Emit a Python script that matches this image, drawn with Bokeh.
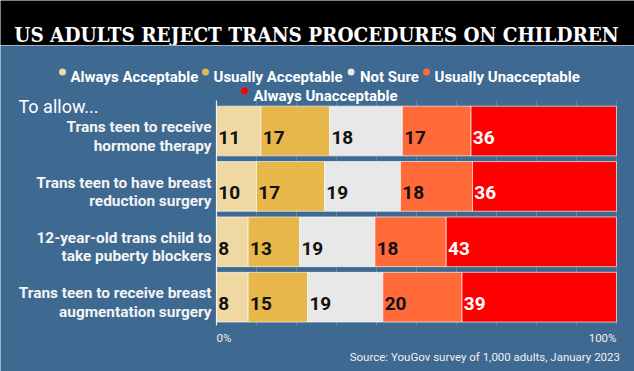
from bokeh.plotting import figure
from bokeh.layouts import column
from bokeh.models import Range1d, ColumnDataSource
from bokeh.core.properties import value
from bokeh.embed import file_html
from bokeh.resources import INLINE

# ---------------- data ----------------
title_text = "US ADULTS REJECT TRANS PROCEDURES ON CHILDREN"
prefix_text = "To allow..."
source_text = "Source: YouGov survey of 1,000 adults, January 2023"
categories = [
    "Trans teen to receive\nhormone therapy",
    "Trans teen to have breast\nreduction surgery",
    "12-year-old trans child to\ntake puberty blockers",
    "Trans teen to receive breast\naugmentation surgery",
]
series_names = ["Always Acceptable", "Usually Acceptable", "Not Sure",
                "Usually Unacceptable", "Always Unacceptable"]
always_acceptable = [11, 10, 8, 8]
usually_acceptable = [17, 17, 13, 15]
not_sure = [18, 19, 19, 19]
usually_unacceptable = [17, 18, 18, 20]
always_unacceptable = [36, 36, 43, 39]
tick_values = [0, 100]
tick_labels = ["0%", "100%"]
grid_values = [10, 20, 30, 40, 50, 60, 70, 80, 90, 100]

series_values = [always_acceptable, usually_acceptable, not_sure,
                 usually_unacceptable, always_unacceptable]
series_colors = ["#f0d8a2", "#e8b749", "#e8e8e8", "#ff6a38", "#fe0000"]
label_colors = ["#111111", "#111111", "#111111", "#111111", "#ffffff"]

BG = "#3e6991"
FONT = value("Roboto")
W = 634

# ---------------- title band ----------------
pt = figure(width=W, height=45, x_range=Range1d(0, W), y_range=Range1d(45, 0),
            x_axis_type=None, y_axis_type=None, toolbar_location=None,
            output_backend="svg", min_border=0, outline_line_color=None,
            background_fill_color="black", border_fill_color="black")
pt.xgrid.visible = False
pt.ygrid.visible = False
pt.text(x=[316], y=[34], text=[title_text], text_align="center",
        text_baseline="alphabetic", text_color="white",
        text_font=value("DejaVu Serif Condensed"), text_font_style="bold",
        text_font_size="20.5px")

# ---------------- chart ----------------
X0, PXU = 216, 4.0          # pixel of 0 %, pixels per percent
p = figure(width=W, height=326, x_range=Range1d(-X0 / PXU, (W - X0) / PXU),
           y_range=Range1d(371, 45),
           x_axis_type=None, y_axis_type=None, toolbar_location=None,
           output_backend="svg", min_border=0, outline_line_color=None,
           background_fill_color=BG, border_fill_color=BG)
p.xgrid.visible = False
p.ygrid.visible = False
px2x = lambda px: (px - X0) / PXU

ROW0, PITCH, BAR_H = 130.5, 55.4, 49.7
ys = [ROW0 + PITCH * i for i in range(len(categories))]

# grid lines and zero axis line
p.segment(x0=grid_values, x1=grid_values, y0=[100] * len(grid_values),
          y1=[325] * len(grid_values), line_color="#5a83a9", line_width=1)
p.segment(x0=[0], x1=[0], y0=[100], y1=[325], line_color="#e6eef5", line_width=1.2)

# stacked (percent) bars
totals = [sum(s[i] for s in series_values) for i in range(len(categories))]
cum = [0.0] * len(categories)
for name, vals, col, lcol in zip(series_names, series_values, series_colors, label_colors):
    left = [cum[i] for i in range(len(vals))]
    right = [cum[i] + vals[i] / totals[i] * 100 for i in range(len(vals))]
    cum = right
    src = ColumnDataSource(dict(y=ys, left=left, right=right, v=[str(v) for v in vals],
                                lx=[l + 0.45 for l in left],
                                ly=[y + 6.2 for y in ys]))
    p.hbar(y="y", left="left", right="right", height=BAR_H, source=src,
           fill_color=col, line_color="white", line_width=0.8, line_alpha=0.8)
    p.text(x="lx", y="ly", text="v", source=src, text_align="left",
           text_baseline="alphabetic", text_color=lcol, text_font=FONT,
           text_font_style="bold", text_font_size="19px")

# category labels (two lines each)
line1 = [c.split("\n")[0] for c in categories]
line2 = [c.split("\n")[1] for c in categories]
p.text(x=[px2x(211)] * 4, y=[y - 3.8 for y in ys], text=line1, text_align="right",
       text_baseline="alphabetic", text_color="#f4f4f4", text_font=FONT,
       text_font_style="bold", text_font_size="15.4px")
p.text(x=[px2x(211)] * 4, y=[y + 14.5 for y in ys], text=line2, text_align="right",
       text_baseline="alphabetic", text_color="#f4f4f4", text_font=FONT,
       text_font_style="bold", text_font_size="15.4px")

# "To allow..."
p.text(x=[px2x(18)], y=[106], text=[prefix_text], text_align="left",
       text_baseline="alphabetic", text_color="white", text_font=FONT,
       text_font_size="18px")

# legend
leg_bullet_x = [62, 205, 350.6, 426, 244]
leg_text_x = [70, 213, 359.5, 434, 253]
leg_y = [76, 76, 76, 76, 95]
p.scatter(x=[px2x(v) for v in leg_bullet_x], y=[yy - 4.5 for yy in leg_y], size=7,
          marker="circle", fill_color=series_colors, line_color=None)
p.text(x=[px2x(v) for v in leg_text_x], y=leg_y, text=series_names, text_align="left",
       text_baseline="alphabetic", text_color="white", text_font=FONT,
       text_font_style="bold", text_font_size="15px")

# axis tick labels
p.text(x=tick_values, y=[337] * 2, text=tick_labels, text_align=["left", "right"],
       text_baseline="alphabetic", text_color="#f0f0f0", text_font=FONT,
       text_font_size="11.5px")

# source
p.text(x=[px2x(619.5)], y=[356], text=[source_text], text_align="right",
       text_baseline="alphabetic", text_color="#f0f0f0", text_font=FONT,
       text_font_size="11.5px")

layout = column(pt, p, spacing=0)
open("out.html", "w").write(file_html(layout, INLINE))
